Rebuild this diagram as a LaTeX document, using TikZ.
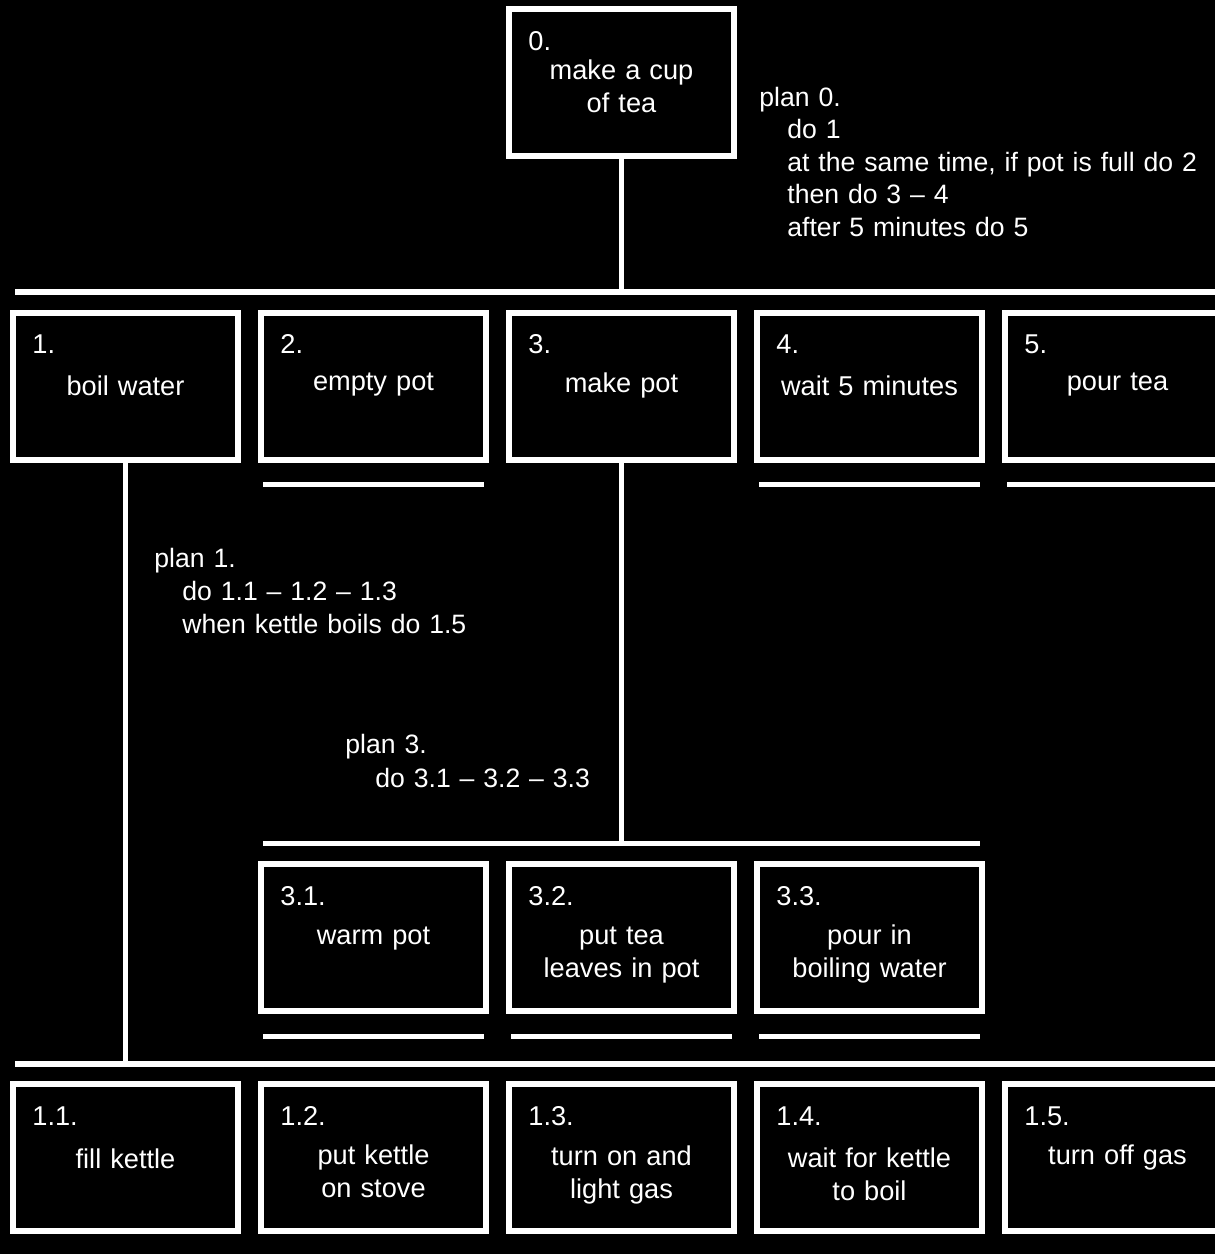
\documentclass[tikz,border=0pt]{standalone}
\usepackage{fontspec}
\setmainfont{Liberation Sans}

\tikzset{
  task/.style={draw=white, line width=3pt, fill=black, minimum width=112.5pt, minimum height=73.5pt, inner sep=0pt},
  num/.style={anchor=base west, inner sep=0pt},
  desc/.style={anchor=base, inner sep=0pt, text width=110pt, align=center},
  plan/.style={anchor=base west, inner sep=0pt, text width=225pt, align=left, font=\fontsize{13.3}{16.5}\selectfont},
  bar/.style={draw=white, line width=3pt},
  link/.style={draw=white, line width=2.5pt},
  rule/.style={draw=white, line width=2.5pt}
}

\begin{document}
\begin{tikzpicture}[x=0.5pt,y=-0.5pt,node distance=124pt,text=white,font=\fontsize{13.6}{16.5}\selectfont]
        \useasboundingbox (0,0) rectangle (1215,1254);
        \fill[black] (0,0) rectangle (1215,1254);
        \clip (0,0) rectangle (1215,1254);

        % tasks
        \node (t0) [task] at (621.5,82.5) {};
        \node (t3) [task] at (621.5,386) {};
        \node (t2) [task, left of=t3] {};
        \node (t1) [task, left of=t2] {};
        \node (t4) [task, right of=t3] {};
        \node (t5) [task, right of=t4] {};
        \node (t32) [task] at (621.5,937.5) {};
        \node (t31) [task, left of=t32] {};
        \node (t33) [task, right of=t32] {};
        \node (t13) [task] at (621.5,1157.5) {};
        \node (t12) [task, left of=t13] {};
        \node (t11) [task, left of=t12] {};
        \node (t14) [task, right of=t13] {};
        \node (t15) [task, right of=t14] {};

        % numbers
        \node (n0) [num] at ([xshift=11pt,yshift=-22pt]t0.north west) {0.};
        \node (n1) [num] at ([xshift=11pt,yshift=-22pt]t1.north west) {1.};
        \node (n2) [num] at ([xshift=11pt,yshift=-22pt]t2.north west) {2.};
        \node (n3) [num] at ([xshift=11pt,yshift=-22pt]t3.north west) {3.};
        \node (n4) [num] at ([xshift=11pt,yshift=-22pt]t4.north west) {4.};
        \node (n5) [num] at ([xshift=11pt,yshift=-22pt]t5.north west) {5.};
        \node (n31) [num] at ([xshift=11pt,yshift=-22pt]t31.north west) {3.1.};
        \node (n32) [num] at ([xshift=11pt,yshift=-22pt]t32.north west) {3.2.};
        \node (n33) [num] at ([xshift=11pt,yshift=-22pt]t33.north west) {3.3.};
        \node (n11) [num] at ([xshift=11pt,yshift=-22pt]t11.north west) {1.1.};
        \node (n12) [num] at ([xshift=11pt,yshift=-22pt]t12.north west) {1.2.};
        \node (n13) [num] at ([xshift=11pt,yshift=-22pt]t13.north west) {1.3.};
        \node (n14) [num] at ([xshift=11pt,yshift=-22pt]t14.north west) {1.4.};
        \node (n15) [num] at ([xshift=11pt,yshift=-22pt]t15.north west) {1.5.};

        % descriptions
        \node (d0) [desc] at ([yshift=-36.5pt]t0.north) {make a cup\\of tea};
        \node (d1) [desc] at ([yshift=-43pt]t1.north) {boil water};
        \node (d2) [desc] at ([yshift=-40.5pt]t2.north) {empty pot};
        \node (d3) [desc] at ([yshift=-41.5pt]t3.north) {make pot};
        \node (d4) [desc] at ([yshift=-43pt]t4.north) {wait 5 minutes};
        \node (d5) [desc] at ([yshift=-40.5pt]t5.north) {pour tea};
        \node (d31) [desc] at ([yshift=-41.5pt]t31.north) {warm pot};
        \node (d32) [desc] at ([yshift=-41.5pt]t32.north) {put tea\\leaves in pot};
        \node (d33) [desc] at ([yshift=-41.5pt]t33.north) {pour in\\boiling water};
        \node (d11) [desc] at ([yshift=-43.5pt]t11.north) {fill kettle};
        \node (d12) [desc] at ([yshift=-41.5pt]t12.north) {put kettle\\on stove};
        \node (d13) [desc] at ([yshift=-42pt]t13.north) {turn on and\\light gas};
        \node (d14) [desc] at ([yshift=-43pt]t14.north) {wait for kettle\\to boil};
        \node (d15) [desc] at ([yshift=-41.5pt]t15.north) {turn off gas};

        % plans
        \node (p0) [plan, font=\fontsize{13.3}{16.25}\selectfont] at (759,106) {plan 0.\\
          \hspace*{14pt}do 1\\
          \hspace*{14pt}at the same time, if pot is full do 2\\
          \hspace*{14pt}then do 3 – 4\\
          \hspace*{14pt}after 5 minutes do 5};
        \node (p1) [plan] at (154,567) {plan 1.\\
          \hspace*{14pt}do 1.1 – 1.2 – 1.3\\
          \hspace*{14pt}when kettle boils do 1.5};
        \node (p3) [plan, font=\fontsize{13.3}{17}\selectfont] at (345,753) {plan 3.\\
          \hspace*{15pt}do 3.1 – 3.2 – 3.3};

        % bars and links
        \coordinate (b0w) at (15,292);
        \coordinate (b0e) at (1215,292);
        \coordinate (b3w) at (263,843);
        \coordinate (b3e) at (980,843);
        \coordinate (b1w) at (15,1064);
        \coordinate (b1e) at (1215,1064);
        \draw[bar] (b0w) -- (b0e);
        \draw[bar] (b1w) -- (b1e);
        \draw[link] (b3w) -- (b3e);
        \draw[link] (t0.south) -- (t0.south |- b0w);
        \draw[link] (t1.south) -- (t1.south |- b1w);
        \draw[link] (t3.south) -- (t3.south |- b3w);

        % underlines
        \draw[rule] ([shift={(2.5pt,-11pt)}]t2.south west) -- ([shift={(-2.5pt,-11pt)}]t2.south east);
        \draw[rule] ([shift={(2.5pt,-11pt)}]t4.south west) -- ([shift={(-2.5pt,-11pt)}]t4.south east);
        \draw[rule] ([shift={(2.5pt,-11pt)}]t5.south west) -- ([shift={(-2.5pt,-11pt)}]t5.south east);
        \draw[rule] ([shift={(2.5pt,-11pt)}]t31.south west) -- ([shift={(-2.5pt,-11pt)}]t31.south east);
        \draw[rule] ([shift={(2.5pt,-11pt)}]t32.south west) -- ([shift={(-2.5pt,-11pt)}]t32.south east);
        \draw[rule] ([shift={(2.5pt,-11pt)}]t33.south west) -- ([shift={(-2.5pt,-11pt)}]t33.south east);
    \end{tikzpicture}
\end{document}
